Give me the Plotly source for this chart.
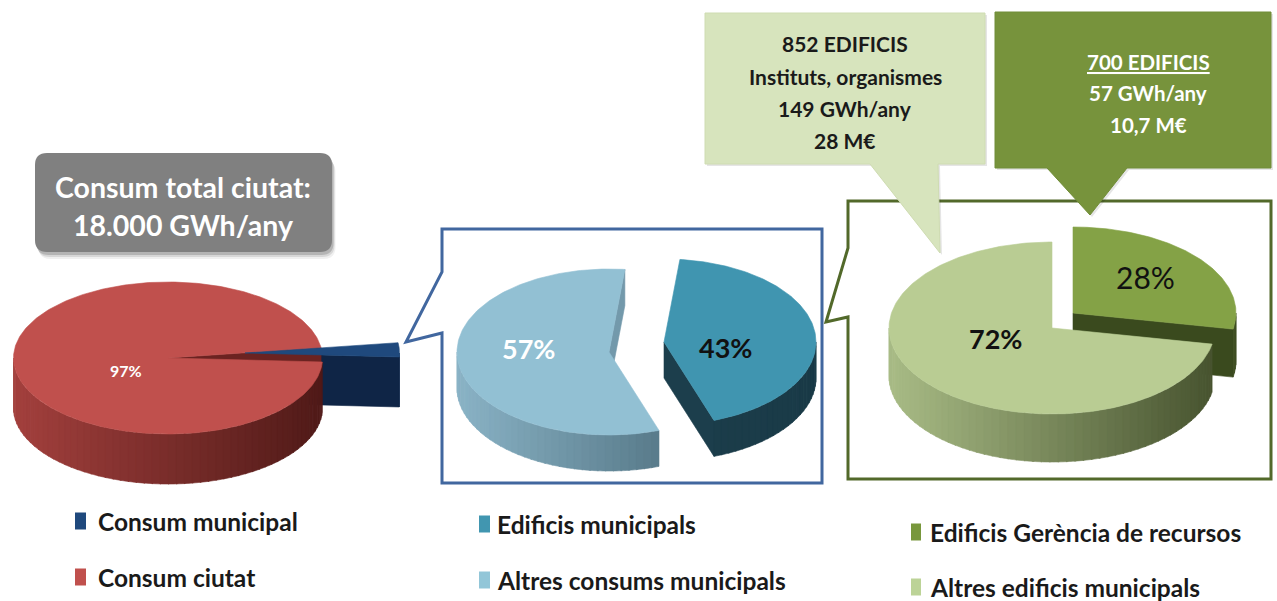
import numpy as np
import plotly.graph_objects as go

# ---------------- DATA ----------------
pie1_labels = ["Consum ciutat", "Consum municipal"]
pie1_values = [97, 3]
pie2_labels = ["Altres consums municipals", "Edificis municipals"]
pie2_values = [57, 43]
pie3_labels = ["Altres edificis municipals", "Edificis Gerència de recursos"]
pie3_values = [72, 28]

total_lines = ["Consum total ciutat:", "18.000 GWh/any"]
altres_lines = ["852 EDIFICIS", "Instituts, organismes", "149 GWh/any", "28 M€"]
gerencia_lines = ["<u>700 EDIFICIS</u>", "57 GWh/any", "10,7 M€"]

# ---------------- STYLE ----------------
FONT = "Lato, 'Open Sans', sans-serif"
W, H = 1277, 601

pies = [
    dict(labels=pie1_labels, values=pie1_values, a=154.5, b=76, depth=50, start=7.8,
         order=[1, 0],  # painter order for walls
         slices=[
             dict(center=(168, 358), top="#c0504d", wall=("#a3403d", "#501a18"), face="#6b2321",
                  label=(126, 370), lcolor="white", lsize=16, lweight=700),
             dict(center=(245, 353), top="#1f497d", wall=("#10294b", "#10294b"), face="#0f2546",
                  label=None),
         ]),
    dict(labels=pie2_labels, values=pie2_values, a=152, b=83, depth=36, start=84,
         order=[0, 1],
         slices=[
             dict(center=(609, 352), top="#92c0d3", wall=("#8ab3c6", "#405f6d"), face="#7399ab",
                  label=(528, 348), lcolor="white", lsize=27, lweight=700),
             dict(center=(664, 342), top="#4095b0", wall=("#1d4250", "#1a3a47"), face="#1c3e4c",
                  label=(725, 347), lcolor="#111111", lsize=27, lweight=700),
         ]),
    dict(labels=pie3_labels, values=pie3_values, a=163, b=86, depth=48, start=90,
         order=[1, 0],
         slices=[
             dict(center=(1052, 328), top="#b9cc93", wall=("#a9bc86", "#47532f"), face="#56633a",
                  label=(995, 338), lcolor="#111111", lsize=27, lweight=700),
             dict(center=(1073, 313), top="#84a246", wall=("#3d4d20", "#3d4d20"), face="#3a4a1e",
                  label=(1145, 277), lcolor="#111111", lsize=30, lweight=400),
         ]),
]

legend_groups = [
    dict(items=[("Consum municipal", "#1f497d"), ("Consum ciutat", "#c0504d")],
         mx=(75, 86), tx=96, ys=(521, 577)),
    dict(items=[("Edificis municipals", "#4196b0"), ("Altres consums municipals", "#92c6d8")],
         mx=(479, 490), tx=495, ys=(524, 580)),
    dict(items=[("Edificis Gerència de recursos", "#78973c"), ("Altres edificis municipals", "#bcd397")],
         mx=(911, 921), tx=928, ys=(532, 587)),
]


def hex2rgb(h):
    h = h.lstrip("#")
    return np.array([int(h[i:i + 2], 16) for i in (0, 2, 4)], dtype=float)


def lerp_color(c1, c2, f):
    c = hex2rgb(c1) * (1 - f) + hex2rgb(c2) * f
    return "rgb(%d,%d,%d)" % tuple(np.round(c).astype(int))


def svg_path(xs, ys):
    return "M" + " L".join(f"{x:.2f},{y:.2f}" for x, y in zip(xs, ys)) + " Z"


def rim(cx, cy, a, b, t):
    r = np.radians(t)
    return cx + a * np.cos(r), cy - b * np.sin(r)


fig = go.Figure()
shapes = []
annotations = []

for pie in pies:
    vals = np.array(pie["values"], dtype=float)
    spans = 360.0 * vals / vals.sum()
    starts = pie["start"] + np.concatenate([[0], np.cumsum(spans)[:-1]])
    a, b, d = pie["a"], pie["b"], pie["depth"]

    # walls (drawn below the top faces)
    for i in pie["order"]:
        st = pie["slices"][i]
        cx, cy = st["center"]
        t0, t1 = starts[i], starts[i] + spans[i]
        # radial cut faces
        for t, normal in ((t0, t0 - 90), (t1, t1 + 90)):
            if np.sin(np.radians(normal)) < -1e-3:
                rx, ry = rim(cx, cy, a, b, t)
                shapes.append(dict(type="path", xref="x", yref="y", layer="below",
                                   path=svg_path([cx, rx, rx, cx], [cy, ry, ry + d, cy + d]),
                                   fillcolor=st["face"], line=dict(color=st["face"], width=0.6)))
        # outer front wall with gradient strips
        for k in range(-1, 3):
            lo, hi = max(t0, 180 + 360 * k), min(t1, 360 + 360 * k)
            if hi - lo <= 0.01:
                continue
            n = max(int(np.ceil((hi - lo) / 3.0)), 1)
            edges = np.linspace(lo, hi, n + 1)
            for u0, u1 in zip(edges[:-1], edges[1:]):
                th = np.linspace(u0, u1 + (0.4 if u1 < hi else 0), 4)
                xs, ys = rim(cx, cy, a, b, th)
                px = np.concatenate([xs, xs[::-1]])
                py = np.concatenate([ys, ys[::-1] + d])
                f = (np.cos(np.radians((u0 + u1) / 2)) + 1) / 2
                col = lerp_color(st["wall"][0], st["wall"][1], f)
                shapes.append(dict(type="path", xref="x", yref="y", layer="below",
                                   path=svg_path(px, py), fillcolor=col,
                                   line=dict(color=col, width=0.6)))

    # top faces as traces
    for i in range(len(vals)):
        st = pie["slices"][i]
        cx, cy = st["center"]
        t0, t1 = starts[i], starts[i] + spans[i]
        th = np.linspace(t0, t1, int(np.ceil(spans[i])) + 2)
        xs, ys = rim(cx, cy, a, b, th)
        fig.add_trace(go.Scatter(
            x=np.concatenate([[cx], xs, [cx]]), y=np.concatenate([[cy], ys, [cy]]),
            mode="lines", fill="toself", fillcolor=st["top"],
            line=dict(color=st["top"], width=0.6), name=pie["labels"][i],
            hoveron="fills", text=f"{pie['labels'][i]}: {pie['values'][i]:g}%",
            hoverinfo="text", showlegend=False))
        if st["label"] is not None:
            annotations.append(dict(x=st["label"][0], y=st["label"][1], xref="x", yref="y",
                                    text=f"{pie['values'][i]:g}%", showarrow=False,
                                    font=dict(family=FONT, size=st["lsize"], color=st["lcolor"],
                                              weight=st["lweight"])))

# ---------------- FRAMES AND CALLOUTS ----------------
shapes.append(dict(type="path", xref="x", yref="y", layer="above",
                   path="M442,229 L822,229 L822,483 L442,483 L442,333 L406,342 L442,272 Z",
                   line=dict(color="#41679f", width=3), fillcolor="rgba(0,0,0,0)"))
shapes.append(dict(type="path", xref="x", yref="y", layer="above",
                   path="M848,201 L1271,201 L1271,479 L848,479 L848,317 L826,322 L848,248 Z",
                   line=dict(color="#52692a", width=3), fillcolor="rgba(0,0,0,0)"))
# light green callout
shapes.append(dict(type="path", xref="x", yref="y", layer="above",
                   path="M707,15 L987,15 L987,166 L940,166 L942,255 L872,166 L707,166 Z",
                   fillcolor="rgba(0,0,0,0.10)", line=dict(width=0)))
shapes.append(dict(type="path", xref="x", yref="y", layer="above",
                   path="M705,13 L985,13 L985,164 L938,164 L940,253 L870,164 L705,164 Z",
                   fillcolor="#d7e4bd", line=dict(color="#cfdcb2", width=1)))
# dark green callout
shapes.append(dict(type="path", xref="x", yref="y", layer="above",
                   path="M997,14 L1273,14 L1273,170 L1129,170 L1092,217 L1049,170 L997,170 Z",
                   fillcolor="rgba(0,0,0,0.10)", line=dict(width=0)))
shapes.append(dict(type="path", xref="x", yref="y", layer="above",
                   path="M995,12 L1271,12 L1271,168 L1127,168 L1090,215 L1047,168 L995,168 Z",
                   fillcolor="#77933c", line=dict(color="#718d38", width=1)))
# grey title box with soft shadow


def rounded(x0, y0, x1, y1, r):
    return (f"M{x0+r},{y0} L{x1-r},{y0} Q{x1},{y0} {x1},{y0+r} L{x1},{y1-r} Q{x1},{y1} {x1-r},{y1} "
            f"L{x0+r},{y1} Q{x0},{y1} {x0},{y1-r} L{x0},{y0+r} Q{x0},{y0} {x0+r},{y0} Z")


for off, alpha in ((7, 0.06), (5, 0.10), (3, 0.16)):
    shapes.append(dict(type="path", xref="x", yref="y", layer="above",
                       path=rounded(35 + off * 0.5, 153 + off, 332 + off * 0.5, 252 + off, 12),
                       fillcolor=f"rgba(0,0,0,{alpha})", line=dict(width=0)))
shapes.append(dict(type="path", xref="x", yref="y", layer="above",
                   path=rounded(35, 153, 332, 252, 12), fillcolor="#808080", line=dict(width=0)))

for txt, y in zip(total_lines, (187, 225)):
    annotations.append(dict(x=183, y=y, xref="x", yref="y", text=txt, showarrow=False,
                            font=dict(family=FONT, size=28.5, color="white", weight=700)))
for txt, y in zip(altres_lines, (43, 76, 108, 140)):
    annotations.append(dict(x=845, y=y, xref="x", yref="y", text=txt, showarrow=False,
                            font=dict(family=FONT, size=21, color="#1a1a1a", weight=700)))
for txt, y in zip(gerencia_lines, (62, 93, 125)):
    annotations.append(dict(x=1148, y=y, xref="x", yref="y", text=txt, showarrow=False,
                            font=dict(family=FONT, size=20.5, color="white", weight=700)))

# ---------------- LEGENDS ----------------
for g in legend_groups:
    for (name, col), y in zip(g["items"], g["ys"]):
        shapes.append(dict(type="rect", xref="x", yref="y", layer="above",
                           x0=g["mx"][0], x1=g["mx"][1], y0=y - 8.5, y1=y + 8.5,
                           fillcolor=col, line=dict(width=0)))
        annotations.append(dict(x=g["tx"], y=y, xref="x", yref="y", text=name, showarrow=False,
                                xanchor="left", yanchor="middle",
                                font=dict(family=FONT, size=24.5, color="#1a1a1a", weight=700)))

fig.update_layout(
    width=W, height=H, margin=dict(l=0, r=0, t=0, b=0),
    paper_bgcolor="white", plot_bgcolor="white",
    xaxis=dict(range=[0, W], visible=False, fixedrange=True),
    yaxis=dict(range=[H, 0], visible=False, fixedrange=True),
    shapes=shapes, annotations=annotations, showlegend=False,
    hovermode="closest",
)

fig.write_html("out.html", include_plotlyjs=True, config={"displayModeBar": False},
               post_script="document.body.style.margin='0px';document.body.style.overflow='hidden';")
